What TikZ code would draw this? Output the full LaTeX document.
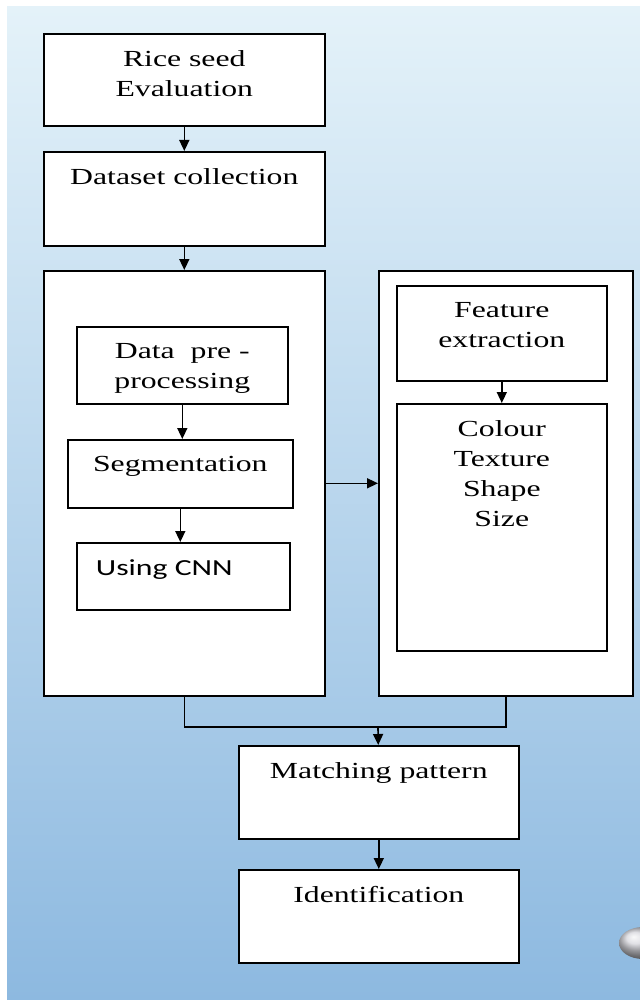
\documentclass[tikz,border=0pt]{standalone}
\usepackage{fontspec}
\setmainfont{Liberation Serif}[FakeStretch=1.38]
\newfontfamily\cnnfont{Carlito}[FakeStretch=1.38]
\usetikzlibrary{arrows.meta}
\definecolor{bgtop}{HTML}{E4F2F9}
\definecolor{bgmid}{HTML}{C3DFF0}
\definecolor{bgbot}{HTML}{8DB9E0}
\begin{document}
\begin{tikzpicture}[x=0.5pt,y=-0.5pt,line width=0.8pt,
    >={Triangle[length=5.5pt,width=5pt]},
    blk/.style 2 args={draw,fill=white,anchor=north west,inner sep=0pt,
        minimum width=#1*0.5pt,minimum height=#2*0.5pt},
    ttl/.style={anchor=north,align=center,inner sep=0pt,yshift=-8.2pt,
        font=\fontsize{11.5}{15}\selectfont}]
        % slide background
        \useasboundingbox (0,0) rectangle (640,1000);
        \fill[white] (0,0) rectangle (640,1000);
        \shade[top color=bgtop,middle color=bgmid,bottom color=bgbot] (7,7) rectangle (640,1000);
        \shade[ball color=blue!8!gray!30] (643,943) ellipse (24 and 16);
        % main column
        \node[blk={281}{92},label={[ttl]north:Rice seed\\Evaluation}] (rice) at (43,33) {};
        \node[blk={281}{94},label={[ttl]north:Dataset collection}] (data) at (43,151) {};
        \node[blk={281}{425}] (proc) at (43,270) {};
        \node[blk={254}{425}] (feat) at (378,270) {};
        % inside the left block
        \node[blk={211}{77},label={[ttl]north:Data~ pre -\\processing}] (dpp) at (76,326) {};
        \node[blk={225}{68},label={[ttl]north:Segmentation}] (seg) at (67,439) {};
        \node[blk={213}{67},label={[ttl,xshift=-9.5pt,font=\cnnfont\fontsize{11.5}{15}\selectfont]north:Using CNN}] (cnn) at (76,542) {};
        % inside the right block
        \node[blk={210}{95},label={[ttl]north:Feature\\extraction}] (fext) at (396,285) {};
        \node[blk={210}{247},label={[ttl]north:Colour\\Texture\\Shape\\Size}] (attr) at (396,403) {};
        % result
        \node[blk={280}{93},label={[ttl]north:Matching pattern}] (match) at (238,745) {};
        \node[blk={280}{93},label={[ttl]north:Identification}] (ident) at (238,869) {};
        \coordinate (join) at (378,727);
        \draw[->] (rice) -- (data);
        \draw[->] (data) -- (proc);
        \draw[->] (dpp.south) -- (dpp.south |- seg.north);
        \draw[->] (seg.south) -- (seg.south |- cnn.north);
        \draw[->] (fext) -- (attr);
        \draw[->] (proc) -- (feat);
        \draw (proc.south) |- (join) -| (feat.south);
        \draw[->] (join) -- (match);
        \draw[->] (match) -- (ident);
    \end{tikzpicture}
\end{document}
